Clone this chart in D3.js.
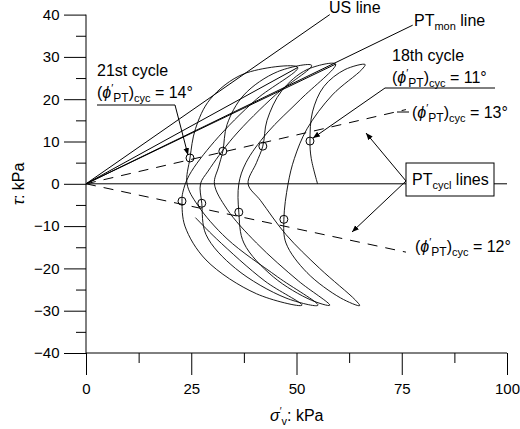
<!DOCTYPE html>
<html><head><meta charset="utf-8">
<script src="https://cdn.jsdelivr.net/npm/d3@7"></script>
<style>body{margin:0;background:#fff}text{font-family:"Liberation Sans",Arial,sans-serif;fill:#000}</style>
</head><body><svg id="c" width="520" height="429"></svg>
<script>
const xTicks=[0,25,50,75,100];
const yTicks=[-40,-30,-20,-10,0,10,20,30,40];
// stress path (sigma'v, tau) for cycles 18..21
const pathSigma=[55,53.5,53.2,53.8,56.5,61.5,66.3,65.5,58.5,52.5,49.5,48,47,47.5,52.5,60.5,65,64,55.5,47.5,41.5,38.5,40.5,42,43,46.5,52.5,59.3,51,43,38,36.3,36.3,37.5,44.5,53.5,57.9,50.5,40.5,33.5,30.5,31.5,32.5,33.5,37.5,45.5,53.6,45,35,29,27.2,27.5,28.5,35.5,47.5,55.1,45.5,33.5,26.5,24,24.7,26,29.5,37.5,50.3,40.5,30.5,24.5,23,22.8,23.5,28.5,40.5,51.3,42.5,31,26];
const pathTau=[0,6,10.1,17,23,27,28.2,27,21,13,6,0,-8.4,-14,-21,-27,-28.8,-27.5,-20,-12,-4,0,5,8.9,15,22,27,28.3,20,12,5,0,-6.7,-14,-22,-27.5,-28.7,-23,-14,-6,0,4,7.7,14,21,26.5,28,21,11,3,0,-4.6,-12,-20,-27,-28.7,-22,-13,-5,0,6.1,13,20,26,27.5,20,10,2,-2,-4.1,-10,-18,-26,-28.7,-23,-13,-8];
const circSigma=[53.2,42,32.5,24.7,47,36.3,27.5,22.8];
const circTau=[10.1,8.9,7.7,6.1,-8.4,-6.7,-4.6,-4.1];
const originLinesEnd=[[50.3,27.5],[59.3,28.3]];
const usLine=[57.9,40], ptmonLine=[77.6,37.5];
const ptcAngles=[13,-12]; const ptcEnd=76;

const svg=d3.select("#c");
const x=d3.scaleLinear().domain([0,100]).range([86,507]);
const y=d3.scaleLinear().domain([-40,40]).range([353,14.6]);
svg.append("defs").append("marker").attr("id","ar").attr("viewBox","0 0 10 10").attr("refX",10).attr("refY",5)
 .attr("markerWidth",7).attr("markerHeight",7).attr("orient","auto")
 .append("path").attr("d","M0,1 L10,5 L0,9 z").attr("fill","#000");
const g=svg.append("g").attr("stroke","#000").attr("fill","none").attr("stroke-width",1);
const xa=svg.append("g").attr("transform",`translate(0,${y(-40)})`)
 .call(d3.axisBottom(x).tickValues(xTicks).tickSize(22).tickFormat(d3.format("d")));
xa.select(".domain").remove();
xa.selectAll("text").attr("font-size",15).attr("dy","1.05em");
svg.append("g").attr("transform",`translate(0,${y(-40)})`).call(d3.axisBottom(x).tickValues(d3.range(12.5,100,25)).tickSize(10).tickFormat(""))
 .select(".domain").remove();
const ya=svg.append("g").attr("transform",`translate(${x(0)},0)`)
 .call(d3.axisLeft(y).tickValues(yTicks).tickSize(22).tickFormat(d=>d<0?"\u2212"+(-d):d));
ya.select(".domain").remove();
ya.selectAll("text").attr("font-size",15).attr("dx","-0.1em");
svg.append("g").attr("transform",`translate(${x(0)},0)`).call(d3.axisLeft(y).tickValues(d3.range(-35,40,10)).tickSize(10).tickFormat(""))
 .select(".domain").remove();
g.append("line").attr("x1",x(0)).attr("x2",x(0)).attr("y1",y(40)).attr("y2",y(-40));
g.append("line").attr("x1",x(0)).attr("x2",x(100)).attr("y1",y(-40)).attr("y2",y(-40));
g.append("line").attr("x1",x(0)).attr("x2",x(100)).attr("y1",y(0)).attr("y2",y(0));
[usLine,ptmonLine,...originLinesEnd].forEach(p=>g.append("line").attr("x1",x(0)).attr("y1",y(0)).attr("x2",x(p[0])).attr("y2",y(p[1])));
ptcAngles.forEach(a=>g.append("line").attr("x1",x(0)).attr("y1",y(0)).attr("x2",x(ptcEnd)).attr("y2",y(ptcEnd*Math.tan(a*Math.PI/180))).attr("stroke-dasharray","10,8"));
const pts=pathSigma.map((s,i)=>[x(s),y(pathTau[i])]);
g.append("path").attr("d",d3.line().curve(d3.curveCatmullRom.alpha(0.5))(pts)).attr("stroke-width",0.9);
circSigma.forEach((s,i)=>g.append("circle").attr("cx",x(s)).attr("cy",y(circTau[i])).attr("r",4).attr("fill","none"));
g.append("polyline").attr("points",`97,105 175,105`);
g.append("line").attr("x1",175).attr("y1",105).attr("x2",x(24.7)-2).attr("y2",y(6.1)-3).attr("marker-end","url(#ar)");
g.append("polyline").attr("points",`495,88 385,88 ${x(53.2)+3},${y(10.1)-3}`).attr("marker-end","url(#ar)");
g.append("line").attr("x1",397).attr("y1",112).attr("x2",409).attr("y2",112);
g.append("rect").attr("x",406).attr("y",163).attr("width",88).attr("height",33).attr("fill","#fff");
g.append("line").attr("x1",406).attr("y1",181).attr("x2",366).attr("y2",133).attr("marker-end","url(#ar)");
g.append("line").attr("x1",406).attr("y1",181).attr("x2",352).attr("y2",232).attr("marker-end","url(#ar)");
function phi(tx,ty,val){
 const t=svg.append("text").attr("x",tx).attr("y",ty).attr("font-size",16);
 t.append("tspan").text("(");
 t.append("tspan").attr("font-style","italic").text("\u03d5");
 t.append("tspan").attr("font-size",11).attr("dy",-6).text("\u2032");
 t.append("tspan").attr("font-size",12).attr("dy",10).text("PT");
 t.append("tspan").attr("dy",-4).text(")");
 t.append("tspan").attr("font-size",11).attr("dy",4).text("cyc");
 t.append("tspan").attr("dy",-4).text(" = "+val);
}
svg.append("text").attr("x",329).attr("y",13).attr("font-size",16).text("US line");
const pm=svg.append("text").attr("x",414).attr("y",26).attr("font-size",16);
pm.append("tspan").text("PT");pm.append("tspan").attr("font-size",11).attr("dy",4).text("mon");pm.append("tspan").attr("dy",-4).text(" line");
svg.append("text").attr("x",392).attr("y",61).attr("font-size",16).text("18th cycle");
phi(392,83,"11°");
svg.append("text").attr("x",97).attr("y",76).attr("font-size",16).text("21st cycle");
phi(97,98,"14°");
phi(412,118,"13°");
phi(415,252,"12°");
const pc=svg.append("text").attr("x",412).attr("y",185).attr("font-size",16);
pc.append("tspan").text("PT");pc.append("tspan").attr("font-size",11).attr("dy",4).text("cycl");pc.append("tspan").attr("dy",-4).text(" lines");
svg.append("text").attr("transform",`translate(24,${y(0)}) rotate(-90)`).attr("text-anchor","middle").attr("font-size",16)
 .html('<tspan font-style="italic">\u03c4</tspan>: kPa');
const xl=svg.append("text").attr("x",270).attr("y",421).attr("font-size",16);
xl.append("tspan").attr("font-style","italic").text("\u03c3");
xl.append("tspan").attr("font-size",10).attr("dy",-6).text("\u2032");
xl.append("tspan").attr("font-size",11).attr("dy",10).text("v");
xl.append("tspan").attr("dy",-4).text(": kPa");
</script></body></html>
